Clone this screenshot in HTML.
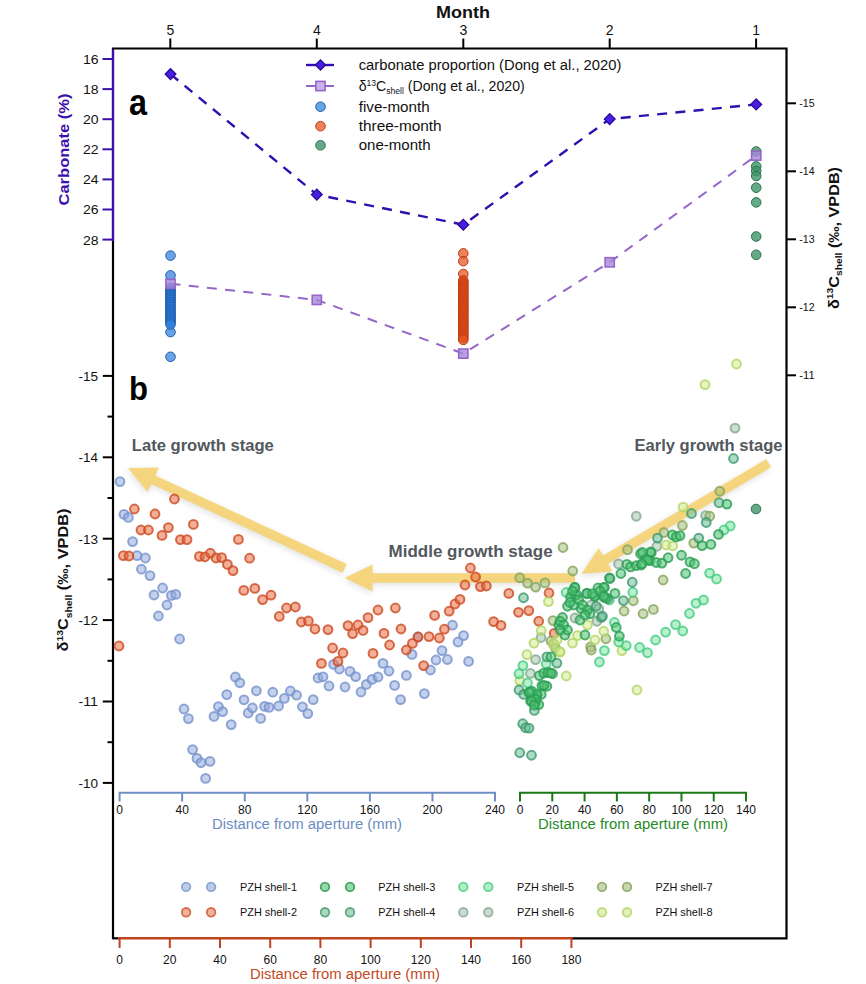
<!DOCTYPE html>
<html><head><meta charset="utf-8"><title>figure</title>
<style>html,body{margin:0;padding:0;background:#fff}body{width:866px;height:984px;overflow:hidden;font-family:"Liberation Sans", sans-serif}svg{display:block}</style>
</head><body>
<svg width="866" height="984" viewBox="0 0 866 984" font-family='"Liberation Sans", sans-serif'>
<rect width="866" height="984" fill="#fff"/>
<path d="M113 939.3 V48.5 H786.5 V938.3 H571" fill="none" stroke="#000" stroke-width="2.2"/>
<path d="M113 938.3 H120" fill="none" stroke="#000" stroke-width="2.2"/>
<path d="M170.3 48.5 V38.5" stroke="#000" stroke-width="2"/>
<text x="170.3" y="35" font-size="14" text-anchor="middle" font-weight="normal" fill="#111" >5</text>
<path d="M316.8 48.5 V38.5" stroke="#000" stroke-width="2"/>
<text x="316.8" y="35" font-size="14" text-anchor="middle" font-weight="normal" fill="#111" >4</text>
<path d="M463.3 48.5 V38.5" stroke="#000" stroke-width="2"/>
<text x="463.3" y="35" font-size="14" text-anchor="middle" font-weight="normal" fill="#111" >3</text>
<path d="M609.7 48.5 V38.5" stroke="#000" stroke-width="2"/>
<text x="609.7" y="35" font-size="14" text-anchor="middle" font-weight="normal" fill="#111" >2</text>
<path d="M756.1 48.5 V38.5" stroke="#000" stroke-width="2"/>
<text x="756.1" y="35" font-size="14" text-anchor="middle" font-weight="normal" fill="#111" >1</text>
<text x="463" y="18" font-size="16" text-anchor="middle" font-weight="bold" fill="#111" textLength="54" lengthAdjust="spacingAndGlyphs" >Month</text>
<path d="M113 49.6 V241" stroke="#3d10ad" stroke-width="2.2"/>
<path d="M102.5 59.0 H113" stroke="#3d10ad" stroke-width="2"/>
<text x="98.6" y="63.9" font-size="12.5" text-anchor="end" font-weight="normal" fill="#111" textLength="15.6" lengthAdjust="spacingAndGlyphs" >16</text>
<path d="M102.5 89.1 H113" stroke="#3d10ad" stroke-width="2"/>
<text x="98.6" y="94.0" font-size="12.5" text-anchor="end" font-weight="normal" fill="#111" textLength="15.6" lengthAdjust="spacingAndGlyphs" >18</text>
<path d="M102.5 119.2 H113" stroke="#3d10ad" stroke-width="2"/>
<text x="98.6" y="124.10000000000001" font-size="12.5" text-anchor="end" font-weight="normal" fill="#111" textLength="15.6" lengthAdjust="spacingAndGlyphs" >20</text>
<path d="M102.5 149.3 H113" stroke="#3d10ad" stroke-width="2"/>
<text x="98.6" y="154.20000000000002" font-size="12.5" text-anchor="end" font-weight="normal" fill="#111" textLength="15.6" lengthAdjust="spacingAndGlyphs" >22</text>
<path d="M102.5 179.4 H113" stroke="#3d10ad" stroke-width="2"/>
<text x="98.6" y="184.3" font-size="12.5" text-anchor="end" font-weight="normal" fill="#111" textLength="15.6" lengthAdjust="spacingAndGlyphs" >24</text>
<path d="M102.5 209.5 H113" stroke="#3d10ad" stroke-width="2"/>
<text x="98.6" y="214.4" font-size="12.5" text-anchor="end" font-weight="normal" fill="#111" textLength="15.6" lengthAdjust="spacingAndGlyphs" >26</text>
<path d="M102.5 239.60000000000002 H113" stroke="#3d10ad" stroke-width="2"/>
<text x="98.6" y="244.50000000000003" font-size="12.5" text-anchor="end" font-weight="normal" fill="#111" textLength="15.6" lengthAdjust="spacingAndGlyphs" >28</text>
<text transform="translate(68.5,149.5) rotate(-90)" font-size="15.5" font-weight="bold" text-anchor="middle" fill="#3d10ad" textLength="112" lengthAdjust="spacingAndGlyphs">Carbonate (%)</text>
<path d="M102.8 375.9 H113" stroke="#000" stroke-width="2"/>
<text x="98" y="380.7" font-size="12" text-anchor="end" font-weight="normal" fill="#111" textLength="19.5" lengthAdjust="spacingAndGlyphs" >-15</text>
<path d="M107.5 416.59999999999997 H113" stroke="#000" stroke-width="2"/>
<path d="M102.8 457.29999999999995 H113" stroke="#000" stroke-width="2"/>
<text x="98" y="462.09999999999997" font-size="12" text-anchor="end" font-weight="normal" fill="#111" textLength="19.5" lengthAdjust="spacingAndGlyphs" >-14</text>
<path d="M107.5 497.99999999999994 H113" stroke="#000" stroke-width="2"/>
<path d="M102.8 538.7 H113" stroke="#000" stroke-width="2"/>
<text x="98" y="543.5" font-size="12" text-anchor="end" font-weight="normal" fill="#111" textLength="19.5" lengthAdjust="spacingAndGlyphs" >-13</text>
<path d="M107.5 579.4000000000001 H113" stroke="#000" stroke-width="2"/>
<path d="M102.8 620.1 H113" stroke="#000" stroke-width="2"/>
<text x="98" y="624.9" font-size="12" text-anchor="end" font-weight="normal" fill="#111" textLength="19.5" lengthAdjust="spacingAndGlyphs" >-12</text>
<path d="M107.5 660.8000000000001 H113" stroke="#000" stroke-width="2"/>
<path d="M102.8 701.5 H113" stroke="#000" stroke-width="2"/>
<text x="98" y="706.3" font-size="12" text-anchor="end" font-weight="normal" fill="#111" textLength="19.5" lengthAdjust="spacingAndGlyphs" >-11</text>
<path d="M107.5 742.2 H113" stroke="#000" stroke-width="2"/>
<path d="M102.8 782.9 H113" stroke="#000" stroke-width="2"/>
<text x="98" y="787.6999999999999" font-size="12" text-anchor="end" font-weight="normal" fill="#111" textLength="19.5" lengthAdjust="spacingAndGlyphs" >-10</text>
<path d="M786.5 103.3 H796" stroke="#000" stroke-width="2"/>
<text x="799.3" y="106.89999999999999" font-size="10" text-anchor="start" font-weight="normal" fill="#111" textLength="15.3" lengthAdjust="spacingAndGlyphs" >-15</text>
<path d="M786.5 171.3 H796" stroke="#000" stroke-width="2"/>
<text x="799.3" y="174.9" font-size="10" text-anchor="start" font-weight="normal" fill="#111" textLength="15.3" lengthAdjust="spacingAndGlyphs" >-14</text>
<path d="M786.5 239.3 H796" stroke="#000" stroke-width="2"/>
<text x="799.3" y="242.9" font-size="10" text-anchor="start" font-weight="normal" fill="#111" textLength="15.3" lengthAdjust="spacingAndGlyphs" >-13</text>
<path d="M786.5 307.3 H796" stroke="#000" stroke-width="2"/>
<text x="799.3" y="310.90000000000003" font-size="10" text-anchor="start" font-weight="normal" fill="#111" textLength="15.3" lengthAdjust="spacingAndGlyphs" >-12</text>
<path d="M786.5 375.3 H796" stroke="#000" stroke-width="2"/>
<text x="799.3" y="378.90000000000003" font-size="10" text-anchor="start" font-weight="normal" fill="#111" textLength="15.3" lengthAdjust="spacingAndGlyphs" >-11</text>
<g transform="translate(838.5,238) rotate(-90)" font-weight="bold" fill="#111"><text x="0" y="0" font-size="15" text-anchor="middle" textLength="142" lengthAdjust="spacingAndGlyphs">δ<tspan font-size="9.5" dy="-5.5">13</tspan><tspan dy="5.5">C</tspan><tspan font-size="9.5" dy="3.5">shell</tspan><tspan dy="-3.5"> (‰, VPDB)</tspan></text></g>
<g transform="translate(68,580) rotate(-90)" font-weight="bold" fill="#111"><text x="0" y="0" font-size="15" text-anchor="middle" textLength="143" lengthAdjust="spacingAndGlyphs">δ<tspan font-size="9.5" dy="-5.5">13</tspan><tspan dy="5.5">C</tspan><tspan font-size="9.5" dy="3.5">shell</tspan><tspan dy="-3.5"> (‰, VPDB)</tspan></text></g>
<path d="M119.6 801.5 V792.8 H495 V801.5" fill="none" stroke="#6f8fc4" stroke-width="2"/>
<text x="119.6" y="814.3" font-size="12" text-anchor="middle" font-weight="normal" fill="#111" >0</text>
<path d="M182.17 792.8 V801.5" stroke="#6f8fc4" stroke-width="2"/>
<text x="182.17" y="814.3" font-size="12" text-anchor="middle" font-weight="normal" fill="#111" >40</text>
<path d="M244.74 792.8 V801.5" stroke="#6f8fc4" stroke-width="2"/>
<text x="244.74" y="814.3" font-size="12" text-anchor="middle" font-weight="normal" fill="#111" >80</text>
<path d="M307.31 792.8 V801.5" stroke="#6f8fc4" stroke-width="2"/>
<text x="307.31" y="814.3" font-size="12" text-anchor="middle" font-weight="normal" fill="#111" >120</text>
<path d="M369.88 792.8 V801.5" stroke="#6f8fc4" stroke-width="2"/>
<text x="369.88" y="814.3" font-size="12" text-anchor="middle" font-weight="normal" fill="#111" >160</text>
<path d="M432.45000000000005 792.8 V801.5" stroke="#6f8fc4" stroke-width="2"/>
<text x="432.45000000000005" y="814.3" font-size="12" text-anchor="middle" font-weight="normal" fill="#111" >200</text>
<text x="495.02" y="814.3" font-size="12" text-anchor="middle" font-weight="normal" fill="#111" >240</text>
<text x="307" y="829" font-size="14" text-anchor="middle" font-weight="normal" fill="#6d8dc2" textLength="190" lengthAdjust="spacingAndGlyphs" >Distance from aperture (mm)</text>
<path d="M520 801.5 V792.8 H746 V801.5" fill="none" stroke="#1a7a1a" stroke-width="2"/>
<text x="520.0" y="814.3" font-size="12" text-anchor="middle" font-weight="normal" fill="#111" >0</text>
<path d="M552.29 792.8 V801.5" stroke="#1a7a1a" stroke-width="2"/>
<text x="552.29" y="814.3" font-size="12" text-anchor="middle" font-weight="normal" fill="#111" >20</text>
<path d="M584.58 792.8 V801.5" stroke="#1a7a1a" stroke-width="2"/>
<text x="584.58" y="814.3" font-size="12" text-anchor="middle" font-weight="normal" fill="#111" >40</text>
<path d="M616.87 792.8 V801.5" stroke="#1a7a1a" stroke-width="2"/>
<text x="616.87" y="814.3" font-size="12" text-anchor="middle" font-weight="normal" fill="#111" >60</text>
<path d="M649.16 792.8 V801.5" stroke="#1a7a1a" stroke-width="2"/>
<text x="649.16" y="814.3" font-size="12" text-anchor="middle" font-weight="normal" fill="#111" >80</text>
<path d="M681.45 792.8 V801.5" stroke="#1a7a1a" stroke-width="2"/>
<text x="681.45" y="814.3" font-size="12" text-anchor="middle" font-weight="normal" fill="#111" >100</text>
<path d="M713.74 792.8 V801.5" stroke="#1a7a1a" stroke-width="2"/>
<text x="713.74" y="814.3" font-size="12" text-anchor="middle" font-weight="normal" fill="#111" >120</text>
<text x="746.03" y="814.3" font-size="12" text-anchor="middle" font-weight="normal" fill="#111" >140</text>
<text x="633" y="829" font-size="14" text-anchor="middle" font-weight="normal" fill="#1f8a2a" textLength="190" lengthAdjust="spacingAndGlyphs" >Distance from aperture (mm)</text>
<path d="M118 938.3 H572.4" stroke="#c0441c" stroke-width="2.4"/>
<path d="M119.6 938.3 V948" stroke="#c0441c" stroke-width="2"/>
<text x="119.6" y="964.3" font-size="12" text-anchor="middle" font-weight="normal" fill="#111" >0</text>
<path d="M169.8 938.3 V948" stroke="#c0441c" stroke-width="2"/>
<text x="169.8" y="964.3" font-size="12" text-anchor="middle" font-weight="normal" fill="#111" >20</text>
<path d="M220.0 938.3 V948" stroke="#c0441c" stroke-width="2"/>
<text x="220.0" y="964.3" font-size="12" text-anchor="middle" font-weight="normal" fill="#111" >40</text>
<path d="M270.20000000000005 938.3 V948" stroke="#c0441c" stroke-width="2"/>
<text x="270.20000000000005" y="964.3" font-size="12" text-anchor="middle" font-weight="normal" fill="#111" >60</text>
<path d="M320.4 938.3 V948" stroke="#c0441c" stroke-width="2"/>
<text x="320.4" y="964.3" font-size="12" text-anchor="middle" font-weight="normal" fill="#111" >80</text>
<path d="M370.6 938.3 V948" stroke="#c0441c" stroke-width="2"/>
<text x="370.6" y="964.3" font-size="12" text-anchor="middle" font-weight="normal" fill="#111" >100</text>
<path d="M420.80000000000007 938.3 V948" stroke="#c0441c" stroke-width="2"/>
<text x="420.80000000000007" y="964.3" font-size="12" text-anchor="middle" font-weight="normal" fill="#111" >120</text>
<path d="M471.0 938.3 V948" stroke="#c0441c" stroke-width="2"/>
<text x="471.0" y="964.3" font-size="12" text-anchor="middle" font-weight="normal" fill="#111" >140</text>
<path d="M521.2 938.3 V948" stroke="#c0441c" stroke-width="2"/>
<text x="521.2" y="964.3" font-size="12" text-anchor="middle" font-weight="normal" fill="#111" >160</text>
<path d="M571.4 938.3 V948" stroke="#c0441c" stroke-width="2"/>
<text x="571.4" y="964.3" font-size="12" text-anchor="middle" font-weight="normal" fill="#111" >180</text>
<text x="345" y="979" font-size="14" text-anchor="middle" font-weight="normal" fill="#c24a1e" textLength="190" lengthAdjust="spacingAndGlyphs" >Distance from aperture (mm)</text>
<text x="129" y="115" font-size="36" text-anchor="start" font-weight="bold" fill="#000" textLength="18" lengthAdjust="spacingAndGlyphs" >a</text>
<text x="129" y="400" font-size="34" text-anchor="start" font-weight="bold" fill="#000" textLength="19" lengthAdjust="spacingAndGlyphs" >b</text>
<defs><filter id="gl" x="-20%" y="-20%" width="140%" height="140%"><feGaussianBlur stdDeviation="3"/></filter></defs>
<path d="M346.6 564.1 L155.3 475.4 L159.0 467.4 L127.9 467.9 L147.6 491.9 L151.3 483.9 L342.6 572.7Z" fill="#777" opacity="0.22" filter="url(#gl)" transform="translate(-1,2)"/>
<path d="M346.6 564.1 L155.3 475.4 L159.0 467.4 L127.9 467.9 L147.6 491.9 L151.3 483.9 L342.6 572.7Z" fill="#f5d474" opacity="0.92"/>
<path d="M575.0 573.3 L372.6 573.3 L372.6 564.5 L344.6 578.0 L372.6 591.5 L372.6 582.7 L575.0 582.7Z" fill="#777" opacity="0.22" filter="url(#gl)" transform="translate(-1,2)"/>
<path d="M575.0 573.3 L372.6 573.3 L372.6 564.5 L344.6 578.0 L372.6 591.5 L372.6 582.7 L575.0 582.7Z" fill="#f5d474" opacity="0.92"/>
<path d="M766.3 459.2 L603.2 555.6 L598.7 548.0 L581.5 573.9 L612.5 571.3 L608.0 563.7 L771.1 467.2Z" fill="#777" opacity="0.22" filter="url(#gl)" transform="translate(-1,2)"/>
<path d="M766.3 459.2 L603.2 555.6 L598.7 548.0 L581.5 573.9 L612.5 571.3 L608.0 563.7 L771.1 467.2Z" fill="#f5d474" opacity="0.92"/>
<text x="131.8" y="450.6" font-size="17" font-weight="bold" fill="#52585d" text-anchor="start" textLength="142" lengthAdjust="spacingAndGlyphs">Late growth stage</text>
<text x="388.6" y="556.6" font-size="17" font-weight="bold" fill="#52585d" text-anchor="start" textLength="164" lengthAdjust="spacingAndGlyphs">Middle growth stage</text>
<text x="634.5" y="450.6" font-size="17" font-weight="bold" fill="#52585d" text-anchor="start" textLength="148" lengthAdjust="spacingAndGlyphs">Early growth stage</text>
<polyline points="170.5,283.7 316.8,299.9 463.3,353.6 609.7,262.3 756.2,155.6" fill="none" stroke="#9467c8" stroke-width="2" stroke-dasharray="10 8.3"/>
<circle cx="170.5" cy="255.6" r="4.8" fill="#2f7fdc" fill-opacity="0.72" stroke="#1d5fae" stroke-width="1"/>
<circle cx="170.5" cy="275.4" r="4.8" fill="#2f7fdc" fill-opacity="0.72" stroke="#1d5fae" stroke-width="1"/>
<circle cx="170.5" cy="332.1" r="4.8" fill="#2f7fdc" fill-opacity="0.72" stroke="#1d5fae" stroke-width="1"/>
<circle cx="170.5" cy="356.8" r="4.8" fill="#2f7fdc" fill-opacity="0.72" stroke="#1d5fae" stroke-width="1"/>
<circle cx="170.5" cy="288.0" r="4.8" fill="#2f7fdc" fill-opacity="0.72" stroke="#1d5fae" stroke-width="1"/>
<circle cx="170.5" cy="289.73809523809524" r="4.8" fill="#2f7fdc" fill-opacity="0.72" stroke="#1d5fae" stroke-width="1"/>
<circle cx="170.5" cy="291.4761904761905" r="4.8" fill="#2f7fdc" fill-opacity="0.72" stroke="#1d5fae" stroke-width="1"/>
<circle cx="170.5" cy="293.2142857142857" r="4.8" fill="#2f7fdc" fill-opacity="0.72" stroke="#1d5fae" stroke-width="1"/>
<circle cx="170.5" cy="294.95238095238096" r="4.8" fill="#2f7fdc" fill-opacity="0.72" stroke="#1d5fae" stroke-width="1"/>
<circle cx="170.5" cy="296.6904761904762" r="4.8" fill="#2f7fdc" fill-opacity="0.72" stroke="#1d5fae" stroke-width="1"/>
<circle cx="170.5" cy="298.42857142857144" r="4.8" fill="#2f7fdc" fill-opacity="0.72" stroke="#1d5fae" stroke-width="1"/>
<circle cx="170.5" cy="300.1666666666667" r="4.8" fill="#2f7fdc" fill-opacity="0.72" stroke="#1d5fae" stroke-width="1"/>
<circle cx="170.5" cy="301.9047619047619" r="4.8" fill="#2f7fdc" fill-opacity="0.72" stroke="#1d5fae" stroke-width="1"/>
<circle cx="170.5" cy="303.64285714285717" r="4.8" fill="#2f7fdc" fill-opacity="0.72" stroke="#1d5fae" stroke-width="1"/>
<circle cx="170.5" cy="305.3809523809524" r="4.8" fill="#2f7fdc" fill-opacity="0.72" stroke="#1d5fae" stroke-width="1"/>
<circle cx="170.5" cy="307.1190476190476" r="4.8" fill="#2f7fdc" fill-opacity="0.72" stroke="#1d5fae" stroke-width="1"/>
<circle cx="170.5" cy="308.85714285714283" r="4.8" fill="#2f7fdc" fill-opacity="0.72" stroke="#1d5fae" stroke-width="1"/>
<circle cx="170.5" cy="310.5952380952381" r="4.8" fill="#2f7fdc" fill-opacity="0.72" stroke="#1d5fae" stroke-width="1"/>
<circle cx="170.5" cy="312.3333333333333" r="4.8" fill="#2f7fdc" fill-opacity="0.72" stroke="#1d5fae" stroke-width="1"/>
<circle cx="170.5" cy="314.07142857142856" r="4.8" fill="#2f7fdc" fill-opacity="0.72" stroke="#1d5fae" stroke-width="1"/>
<circle cx="170.5" cy="315.8095238095238" r="4.8" fill="#2f7fdc" fill-opacity="0.72" stroke="#1d5fae" stroke-width="1"/>
<circle cx="170.5" cy="317.54761904761904" r="4.8" fill="#2f7fdc" fill-opacity="0.72" stroke="#1d5fae" stroke-width="1"/>
<circle cx="170.5" cy="319.2857142857143" r="4.8" fill="#2f7fdc" fill-opacity="0.72" stroke="#1d5fae" stroke-width="1"/>
<circle cx="170.5" cy="321.0238095238095" r="4.8" fill="#2f7fdc" fill-opacity="0.72" stroke="#1d5fae" stroke-width="1"/>
<circle cx="170.5" cy="322.76190476190476" r="4.8" fill="#2f7fdc" fill-opacity="0.72" stroke="#1d5fae" stroke-width="1"/>
<circle cx="170.5" cy="324.5" r="4.8" fill="#2f7fdc" fill-opacity="0.72" stroke="#1d5fae" stroke-width="1"/>
<circle cx="463.3" cy="253.4" r="4.8" fill="#e2531f" fill-opacity="0.72" stroke="#c23c10" stroke-width="1"/>
<circle cx="463.3" cy="261.2" r="4.8" fill="#e2531f" fill-opacity="0.72" stroke="#c23c10" stroke-width="1"/>
<circle cx="463.3" cy="274" r="4.8" fill="#e2531f" fill-opacity="0.72" stroke="#c23c10" stroke-width="1"/>
<circle cx="463.3" cy="280.4" r="4.8" fill="#e2531f" fill-opacity="0.72" stroke="#c23c10" stroke-width="1"/>
<circle cx="463.3" cy="282.15" r="4.8" fill="#e2531f" fill-opacity="0.72" stroke="#c23c10" stroke-width="1"/>
<circle cx="463.3" cy="283.9" r="4.8" fill="#e2531f" fill-opacity="0.72" stroke="#c23c10" stroke-width="1"/>
<circle cx="463.3" cy="285.65" r="4.8" fill="#e2531f" fill-opacity="0.72" stroke="#c23c10" stroke-width="1"/>
<circle cx="463.3" cy="287.4" r="4.8" fill="#e2531f" fill-opacity="0.72" stroke="#c23c10" stroke-width="1"/>
<circle cx="463.3" cy="289.15" r="4.8" fill="#e2531f" fill-opacity="0.72" stroke="#c23c10" stroke-width="1"/>
<circle cx="463.3" cy="290.9" r="4.8" fill="#e2531f" fill-opacity="0.72" stroke="#c23c10" stroke-width="1"/>
<circle cx="463.3" cy="292.65" r="4.8" fill="#e2531f" fill-opacity="0.72" stroke="#c23c10" stroke-width="1"/>
<circle cx="463.3" cy="294.4" r="4.8" fill="#e2531f" fill-opacity="0.72" stroke="#c23c10" stroke-width="1"/>
<circle cx="463.3" cy="296.15" r="4.8" fill="#e2531f" fill-opacity="0.72" stroke="#c23c10" stroke-width="1"/>
<circle cx="463.3" cy="297.9" r="4.8" fill="#e2531f" fill-opacity="0.72" stroke="#c23c10" stroke-width="1"/>
<circle cx="463.3" cy="299.65" r="4.8" fill="#e2531f" fill-opacity="0.72" stroke="#c23c10" stroke-width="1"/>
<circle cx="463.3" cy="301.4" r="4.8" fill="#e2531f" fill-opacity="0.72" stroke="#c23c10" stroke-width="1"/>
<circle cx="463.3" cy="303.15" r="4.8" fill="#e2531f" fill-opacity="0.72" stroke="#c23c10" stroke-width="1"/>
<circle cx="463.3" cy="304.9" r="4.8" fill="#e2531f" fill-opacity="0.72" stroke="#c23c10" stroke-width="1"/>
<circle cx="463.3" cy="306.65" r="4.8" fill="#e2531f" fill-opacity="0.72" stroke="#c23c10" stroke-width="1"/>
<circle cx="463.3" cy="308.4" r="4.8" fill="#e2531f" fill-opacity="0.72" stroke="#c23c10" stroke-width="1"/>
<circle cx="463.3" cy="310.15" r="4.8" fill="#e2531f" fill-opacity="0.72" stroke="#c23c10" stroke-width="1"/>
<circle cx="463.3" cy="311.9" r="4.8" fill="#e2531f" fill-opacity="0.72" stroke="#c23c10" stroke-width="1"/>
<circle cx="463.3" cy="313.65" r="4.8" fill="#e2531f" fill-opacity="0.72" stroke="#c23c10" stroke-width="1"/>
<circle cx="463.3" cy="315.4" r="4.8" fill="#e2531f" fill-opacity="0.72" stroke="#c23c10" stroke-width="1"/>
<circle cx="463.3" cy="317.15" r="4.8" fill="#e2531f" fill-opacity="0.72" stroke="#c23c10" stroke-width="1"/>
<circle cx="463.3" cy="318.9" r="4.8" fill="#e2531f" fill-opacity="0.72" stroke="#c23c10" stroke-width="1"/>
<circle cx="463.3" cy="320.65" r="4.8" fill="#e2531f" fill-opacity="0.72" stroke="#c23c10" stroke-width="1"/>
<circle cx="463.3" cy="322.4" r="4.8" fill="#e2531f" fill-opacity="0.72" stroke="#c23c10" stroke-width="1"/>
<circle cx="463.3" cy="324.15" r="4.8" fill="#e2531f" fill-opacity="0.72" stroke="#c23c10" stroke-width="1"/>
<circle cx="463.3" cy="325.9" r="4.8" fill="#e2531f" fill-opacity="0.72" stroke="#c23c10" stroke-width="1"/>
<circle cx="463.3" cy="327.65" r="4.8" fill="#e2531f" fill-opacity="0.72" stroke="#c23c10" stroke-width="1"/>
<circle cx="463.3" cy="329.4" r="4.8" fill="#e2531f" fill-opacity="0.72" stroke="#c23c10" stroke-width="1"/>
<circle cx="463.3" cy="331.15" r="4.8" fill="#e2531f" fill-opacity="0.72" stroke="#c23c10" stroke-width="1"/>
<circle cx="463.3" cy="332.9" r="4.8" fill="#e2531f" fill-opacity="0.72" stroke="#c23c10" stroke-width="1"/>
<circle cx="463.3" cy="334.65" r="4.8" fill="#e2531f" fill-opacity="0.72" stroke="#c23c10" stroke-width="1"/>
<circle cx="463.3" cy="336.4" r="4.8" fill="#e2531f" fill-opacity="0.72" stroke="#c23c10" stroke-width="1"/>
<circle cx="463.3" cy="338.15" r="4.8" fill="#e2531f" fill-opacity="0.72" stroke="#c23c10" stroke-width="1"/>
<circle cx="463.3" cy="339.9" r="4.8" fill="#e2531f" fill-opacity="0.72" stroke="#c23c10" stroke-width="1"/>
<circle cx="756.2" cy="151.5" r="4.8" fill="#3f9568" fill-opacity="0.8" stroke="#2a7350" stroke-width="1"/>
<circle cx="756.2" cy="166.4" r="4.8" fill="#3f9568" fill-opacity="0.8" stroke="#2a7350" stroke-width="1"/>
<circle cx="756.2" cy="171" r="4.8" fill="#3f9568" fill-opacity="0.8" stroke="#2a7350" stroke-width="1"/>
<circle cx="756.2" cy="176" r="4.8" fill="#3f9568" fill-opacity="0.8" stroke="#2a7350" stroke-width="1"/>
<circle cx="756.2" cy="187.7" r="4.8" fill="#3f9568" fill-opacity="0.8" stroke="#2a7350" stroke-width="1"/>
<circle cx="756.2" cy="202.4" r="4.8" fill="#3f9568" fill-opacity="0.8" stroke="#2a7350" stroke-width="1"/>
<circle cx="756.2" cy="236.5" r="4.8" fill="#3f9568" fill-opacity="0.8" stroke="#2a7350" stroke-width="1"/>
<circle cx="756.2" cy="254.8" r="4.8" fill="#3f9568" fill-opacity="0.8" stroke="#2a7350" stroke-width="1"/>
<circle cx="756" cy="509" r="4.8" fill="#3f9568" fill-opacity="0.8" stroke="#2a7350" stroke-width="1"/>
<rect x="165.9" y="279.09999999999997" width="9.2" height="9.2" fill="#a988da" fill-opacity="0.8" stroke="#9467c8" stroke-width="1.6"/>
<rect x="312.2" y="295.29999999999995" width="9.2" height="9.2" fill="#a988da" fill-opacity="0.8" stroke="#9467c8" stroke-width="1.6"/>
<rect x="458.7" y="349.0" width="9.2" height="9.2" fill="#a988da" fill-opacity="0.8" stroke="#9467c8" stroke-width="1.6"/>
<rect x="605.1" y="257.7" width="9.2" height="9.2" fill="#a988da" fill-opacity="0.8" stroke="#9467c8" stroke-width="1.6"/>
<rect x="751.6" y="151.0" width="9.2" height="9.2" fill="#a988da" fill-opacity="0.8" stroke="#9467c8" stroke-width="1.6"/>
<polyline points="170.5,74.1 316.8,194.6 463.3,224.7 609.7,119.1 756.2,104.4" fill="none" stroke="#3210b0" stroke-width="2.4" stroke-dasharray="10 8.3"/>
<path d="M165.1 74.1 L170.5 68.69999999999999 L175.9 74.1 L170.5 79.5Z" fill="#4a1ee0" stroke="#2a0a9c" stroke-width="1.3"/>
<path d="M311.40000000000003 194.6 L316.8 189.2 L322.2 194.6 L316.8 200.0Z" fill="#4a1ee0" stroke="#2a0a9c" stroke-width="1.3"/>
<path d="M457.90000000000003 224.7 L463.3 219.29999999999998 L468.7 224.7 L463.3 230.1Z" fill="#4a1ee0" stroke="#2a0a9c" stroke-width="1.3"/>
<path d="M604.3000000000001 119.1 L609.7 113.69999999999999 L615.1 119.1 L609.7 124.5Z" fill="#4a1ee0" stroke="#2a0a9c" stroke-width="1.3"/>
<path d="M750.8000000000001 104.4 L756.2 99.0 L761.6 104.4 L756.2 109.80000000000001Z" fill="#4a1ee0" stroke="#2a0a9c" stroke-width="1.3"/>
<path d="M306 65 H334" stroke="#3210b0" stroke-width="2.4"/>
<path d="M315.5 65 L320.5 60 L325.5 65 L320.5 70Z" fill="#4a1ee0" stroke="#2a0a9c" stroke-width="1.3"/>
<path d="M306 86 H334" stroke="#9467c8" stroke-width="2"/>
<rect x="315.9" y="81.4" width="9.2" height="9.2" fill="#c9b3ea" stroke="#9467c8" stroke-width="1.6"/>
<circle cx="320.5" cy="106.7" r="4.8" fill="#2f7fdc" fill-opacity="0.72" stroke="#1d5fae" stroke-width="1"/>
<circle cx="320.5" cy="126.2" r="4.8" fill="#e2531f" fill-opacity="0.72" stroke="#c23c10" stroke-width="1"/>
<circle cx="320.5" cy="145.3" r="4.8" fill="#3f9568" fill-opacity="0.8" stroke="#2a7350" stroke-width="1"/>
<text x="358.7" y="70" font-size="14" fill="#111" textLength="262.7" lengthAdjust="spacingAndGlyphs">carbonate proportion (Dong et al., 2020)</text>
<text x="358.7" y="91" font-size="14" fill="#111" textLength="166" lengthAdjust="spacingAndGlyphs">δ<tspan font-size="8.5" dy="-5">13</tspan><tspan dy="5">C</tspan><tspan font-size="8.5" dy="3">shell</tspan><tspan dy="-3"> (Dong et al., 2020)</tspan></text>
<text x="358.7" y="111.5" font-size="14" fill="#111" textLength="71" lengthAdjust="spacingAndGlyphs">five-month</text>
<text x="358.7" y="131" font-size="14" fill="#111" textLength="83" lengthAdjust="spacingAndGlyphs">three-month</text>
<text x="358.7" y="150.2" font-size="14" fill="#111" textLength="72" lengthAdjust="spacingAndGlyphs">one-month</text>
<circle cx="186.1" cy="886.9" r="4.3" fill="#8fa8d8" fill-opacity="0.6" stroke="#7f9bd0" stroke-width="1.8" stroke-opacity="0.85"/>
<circle cx="211.1" cy="886.9" r="4.3" fill="#8fa8d8" fill-opacity="0.6" stroke="#7f9bd0" stroke-width="1.8" stroke-opacity="0.85"/>
<text x="240" y="890.9" font-size="11" fill="#111" textLength="57" lengthAdjust="spacingAndGlyphs">PZH shell-1</text>
<circle cx="186.1" cy="912.3" r="4.3" fill="#e8805c" fill-opacity="0.6" stroke="#cf5a36" stroke-width="1.8" stroke-opacity="0.85"/>
<circle cx="211.1" cy="912.3" r="4.3" fill="#e8805c" fill-opacity="0.6" stroke="#cf5a36" stroke-width="1.8" stroke-opacity="0.85"/>
<text x="240" y="916.3" font-size="11" fill="#111" textLength="57" lengthAdjust="spacingAndGlyphs">PZH shell-2</text>
<circle cx="325" cy="886.9" r="4.3" fill="#4fbf70" fill-opacity="0.6" stroke="#2f9a50" stroke-width="1.8" stroke-opacity="0.85"/>
<circle cx="350" cy="886.9" r="4.3" fill="#4fbf70" fill-opacity="0.6" stroke="#2f9a50" stroke-width="1.8" stroke-opacity="0.85"/>
<text x="378.3" y="890.9" font-size="11" fill="#111" textLength="57" lengthAdjust="spacingAndGlyphs">PZH shell-3</text>
<circle cx="325" cy="912.3" r="4.3" fill="#72bf95" fill-opacity="0.6" stroke="#4d9d74" stroke-width="1.8" stroke-opacity="0.85"/>
<circle cx="350" cy="912.3" r="4.3" fill="#72bf95" fill-opacity="0.6" stroke="#4d9d74" stroke-width="1.8" stroke-opacity="0.85"/>
<text x="378.3" y="916.3" font-size="11" fill="#111" textLength="57" lengthAdjust="spacingAndGlyphs">PZH shell-4</text>
<circle cx="463.3" cy="886.9" r="4.3" fill="#7be3a3" fill-opacity="0.6" stroke="#4fcf85" stroke-width="1.8" stroke-opacity="0.85"/>
<circle cx="488.3" cy="886.9" r="4.3" fill="#7be3a3" fill-opacity="0.6" stroke="#4fcf85" stroke-width="1.8" stroke-opacity="0.85"/>
<text x="517" y="890.9" font-size="11" fill="#111" textLength="57" lengthAdjust="spacingAndGlyphs">PZH shell-5</text>
<circle cx="463.3" cy="912.3" r="4.3" fill="#a9c5b0" fill-opacity="0.6" stroke="#8aa995" stroke-width="1.8" stroke-opacity="0.85"/>
<circle cx="488.3" cy="912.3" r="4.3" fill="#a9c5b0" fill-opacity="0.6" stroke="#8aa995" stroke-width="1.8" stroke-opacity="0.85"/>
<text x="517" y="916.3" font-size="11" fill="#111" textLength="57" lengthAdjust="spacingAndGlyphs">PZH shell-6</text>
<circle cx="602" cy="886.9" r="4.3" fill="#a3bd7c" fill-opacity="0.6" stroke="#86a45e" stroke-width="1.8" stroke-opacity="0.85"/>
<circle cx="627" cy="886.9" r="4.3" fill="#a3bd7c" fill-opacity="0.6" stroke="#86a45e" stroke-width="1.8" stroke-opacity="0.85"/>
<text x="655.5" y="890.9" font-size="11" fill="#111" textLength="57" lengthAdjust="spacingAndGlyphs">PZH shell-7</text>
<circle cx="602" cy="912.3" r="4.3" fill="#cfe88a" fill-opacity="0.6" stroke="#b5d56a" stroke-width="1.8" stroke-opacity="0.85"/>
<circle cx="627" cy="912.3" r="4.3" fill="#cfe88a" fill-opacity="0.6" stroke="#b5d56a" stroke-width="1.8" stroke-opacity="0.85"/>
<text x="655.5" y="916.3" font-size="11" fill="#111" textLength="57" lengthAdjust="spacingAndGlyphs">PZH shell-8</text>
<g fill="#93abdc" fill-opacity="0.55" stroke="#7591cc" stroke-opacity="0.8" stroke-width="2">
<circle cx="120" cy="481.6" r="4.4"/><circle cx="124" cy="514.4" r="4.4"/><circle cx="128.4" cy="517.4" r="4.4"/><circle cx="132.6" cy="541.6" r="4.4"/><circle cx="137" cy="555.6" r="4.4"/><circle cx="141.4" cy="569.2" r="4.4"/><circle cx="145.4" cy="558" r="4.4"/><circle cx="150" cy="575.6" r="4.4"/><circle cx="154" cy="595" r="4.4"/><circle cx="158.4" cy="616" r="4.4"/><circle cx="162.6" cy="588" r="4.4"/><circle cx="167" cy="605" r="4.4"/><circle cx="171.4" cy="595.4" r="4.4"/><circle cx="175.8" cy="594.4" r="4.4"/><circle cx="179.6" cy="639" r="4.4"/><circle cx="184" cy="709" r="4.4"/><circle cx="188.4" cy="718.6" r="4.4"/><circle cx="192.6" cy="749.6" r="4.4"/><circle cx="197" cy="758.4" r="4.4"/><circle cx="201" cy="762.6" r="4.4"/><circle cx="205.6" cy="778.4" r="4.4"/><circle cx="210" cy="761.4" r="4.4"/><circle cx="214" cy="716.4" r="4.4"/><circle cx="218.4" cy="706.6" r="4.4"/><circle cx="222.6" cy="711.6" r="4.4"/><circle cx="226.8" cy="694.6" r="4.4"/><circle cx="231.2" cy="724.6" r="4.4"/><circle cx="235.4" cy="677" r="4.4"/><circle cx="239.8" cy="682.8" r="4.4"/><circle cx="244" cy="699.8" r="4.4"/><circle cx="248.2" cy="713" r="4.4"/><circle cx="252.4" cy="708" r="4.4"/><circle cx="256.4" cy="690.8" r="4.4"/><circle cx="260.6" cy="718.4" r="4.4"/><circle cx="264.6" cy="706.4" r="4.4"/><circle cx="269" cy="707.4" r="4.4"/><circle cx="272.8" cy="692.2" r="4.4"/><circle cx="278.6" cy="706" r="4.4"/><circle cx="284.4" cy="698.4" r="4.4"/><circle cx="290.4" cy="691" r="4.4"/><circle cx="296.6" cy="695.2" r="4.4"/><circle cx="302.4" cy="706.8" r="4.4"/><circle cx="307.8" cy="713.6" r="4.4"/><circle cx="313.2" cy="699.6" r="4.4"/><circle cx="318" cy="678" r="4.4"/><circle cx="323" cy="676.8" r="4.4"/><circle cx="329" cy="686" r="4.4"/><circle cx="333.6" cy="664.4" r="4.4"/><circle cx="339.4" cy="669" r="4.4"/><circle cx="345" cy="687" r="4.4"/><circle cx="350" cy="671.4" r="4.4"/><circle cx="355.6" cy="676.6" r="4.4"/><circle cx="361" cy="692" r="4.4"/><circle cx="366.4" cy="684.4" r="4.4"/><circle cx="372" cy="679.4" r="4.4"/><circle cx="378" cy="677" r="4.4"/><circle cx="383" cy="663.4" r="4.4"/><circle cx="389" cy="671" r="4.4"/><circle cx="394.6" cy="685.4" r="4.4"/><circle cx="400.6" cy="699.6" r="4.4"/><circle cx="406.4" cy="675.4" r="4.4"/><circle cx="412" cy="654.4" r="4.4"/><circle cx="418" cy="637" r="4.4"/><circle cx="424.4" cy="693.6" r="4.4"/><circle cx="430.4" cy="670" r="4.4"/><circle cx="436" cy="660" r="4.4"/><circle cx="442" cy="650.6" r="4.4"/><circle cx="447.4" cy="659.5" r="4.4"/><circle cx="452.5" cy="625.2" r="4.4"/><circle cx="458" cy="642" r="4.4"/><circle cx="463.6" cy="635.6" r="4.4"/><circle cx="468.6" cy="661.4" r="4.4"/>
</g>
<g fill="#ea6d44" fill-opacity="0.55" stroke="#cc4a20" stroke-opacity="0.8" stroke-width="2">
<circle cx="119" cy="646" r="4.4"/><circle cx="123.4" cy="555.6" r="4.4"/><circle cx="129" cy="556" r="4.4"/><circle cx="134.4" cy="509" r="4.4"/><circle cx="141" cy="530" r="4.4"/><circle cx="148.4" cy="530" r="4.4"/><circle cx="155" cy="514" r="4.4"/><circle cx="162" cy="535.4" r="4.4"/><circle cx="168.4" cy="527.6" r="4.4"/><circle cx="174.4" cy="499" r="4.4"/><circle cx="180.4" cy="539.6" r="4.4"/><circle cx="187" cy="539.6" r="4.4"/><circle cx="193.4" cy="524.4" r="4.4"/><circle cx="199.4" cy="556.4" r="4.4"/><circle cx="205" cy="556.8" r="4.4"/><circle cx="210.4" cy="553.2" r="4.4"/><circle cx="216" cy="558" r="4.4"/><circle cx="221.6" cy="557.6" r="4.4"/><circle cx="227.4" cy="564.4" r="4.4"/><circle cx="233" cy="570.6" r="4.4"/><circle cx="238.4" cy="539.4" r="4.4"/><circle cx="243.8" cy="590.4" r="4.4"/><circle cx="249.6" cy="558.2" r="4.4"/><circle cx="254.8" cy="588.4" r="4.4"/><circle cx="262.6" cy="599.6" r="4.4"/><circle cx="271" cy="595.2" r="4.4"/><circle cx="279.3" cy="616.4" r="4.4"/><circle cx="286.5" cy="608" r="4.4"/><circle cx="295.4" cy="607" r="4.4"/><circle cx="301.4" cy="622" r="4.4"/><circle cx="308.4" cy="621" r="4.4"/><circle cx="315" cy="629" r="4.4"/><circle cx="328" cy="629.6" r="4.4"/><circle cx="332.6" cy="648" r="4.4"/><circle cx="343" cy="653" r="4.4"/><circle cx="338" cy="661.4" r="4.4"/><circle cx="321.4" cy="663.4" r="4.4"/><circle cx="348" cy="625.6" r="4.4"/><circle cx="352.6" cy="633.6" r="4.4"/><circle cx="358" cy="625" r="4.4"/><circle cx="363" cy="630.4" r="4.4"/><circle cx="368" cy="617.6" r="4.4"/><circle cx="378" cy="610" r="4.4"/><circle cx="373" cy="653.4" r="4.4"/><circle cx="384" cy="633.4" r="4.4"/><circle cx="389.6" cy="645" r="4.4"/><circle cx="395.4" cy="608" r="4.4"/><circle cx="401" cy="629" r="4.4"/><circle cx="406.4" cy="650" r="4.4"/><circle cx="412.4" cy="643.4" r="4.4"/><circle cx="418" cy="637" r="4.4"/><circle cx="423.6" cy="665.6" r="4.4"/><circle cx="429" cy="636.6" r="4.4"/><circle cx="434.6" cy="615.4" r="4.4"/><circle cx="439.4" cy="638" r="4.4"/><circle cx="444.4" cy="629.2" r="4.4"/><circle cx="449.2" cy="611.2" r="4.4"/><circle cx="455" cy="604" r="4.4"/><circle cx="460" cy="599.4" r="4.4"/><circle cx="465" cy="585" r="4.4"/><circle cx="470.4" cy="568" r="4.4"/><circle cx="475.6" cy="577" r="4.4"/><circle cx="480.4" cy="586.6" r="4.4"/><circle cx="486.4" cy="586" r="4.4"/><circle cx="493.6" cy="621.6" r="4.4"/><circle cx="501" cy="625.4" r="4.4"/><circle cx="508.8" cy="593.4" r="4.4"/><circle cx="518.5" cy="612.3" r="4.4"/><circle cx="528.8" cy="610.6" r="4.4"/><circle cx="538.7" cy="621.2" r="4.4"/><circle cx="549" cy="593" r="4.4"/><circle cx="554.2" cy="633.4" r="4.4"/>
</g>
<g fill="#a5c4af" fill-opacity="0.55" stroke="#83a78f" stroke-opacity="0.8" stroke-width="2">
<circle cx="535.6" cy="659.6" r="4.4"/><circle cx="530.4" cy="673.4" r="4.4"/><circle cx="541" cy="637.5" r="4.4"/><circle cx="575" cy="618" r="4.4"/><circle cx="591.25" cy="605" r="4.4"/><circle cx="598.75" cy="608.75" r="4.4"/><circle cx="596.9" cy="621.25" r="4.4"/><circle cx="618.5" cy="563.9" r="4.4"/><circle cx="636.25" cy="516.25" r="4.4"/><circle cx="705.6" cy="515.6" r="4.4"/><circle cx="656.9" cy="546.25" r="4.4"/><circle cx="735" cy="428.1" r="4.4"/><circle cx="603.75" cy="597.5" r="4.4"/>
</g>
<g fill="#a6c07c" fill-opacity="0.55" stroke="#86a45c" stroke-opacity="0.8" stroke-width="2">
<circle cx="563" cy="547.5" r="4.4"/><circle cx="519.75" cy="577.75" r="4.4"/><circle cx="527.5" cy="583.1" r="4.4"/><circle cx="535.6" cy="587.1" r="4.4"/><circle cx="545" cy="582.9" r="4.4"/><circle cx="572.75" cy="571" r="4.4"/><circle cx="553" cy="620.6" r="4.4"/><circle cx="590.6" cy="646.9" r="4.4"/><circle cx="605.9" cy="638.75" r="4.4"/><circle cx="663.1" cy="580" r="4.4"/><circle cx="633.3" cy="600.8" r="4.4"/><circle cx="624.1" cy="611" r="4.4"/><circle cx="643.1" cy="613.75" r="4.4"/><circle cx="653.4" cy="609.4" r="4.4"/><circle cx="627.5" cy="549.7" r="4.4"/><circle cx="719.75" cy="491.25" r="4.4"/><circle cx="709.75" cy="516.25" r="4.4"/><circle cx="682.4" cy="525.5" r="4.4"/><circle cx="663.9" cy="532.5" r="4.4"/><circle cx="693.75" cy="543.1" r="4.4"/><circle cx="591.25" cy="650" r="4.4"/><circle cx="553.75" cy="643.75" r="4.4"/><circle cx="555.5" cy="648" r="4.4"/><circle cx="551" cy="641" r="4.4"/>
</g>
<g fill="#d3ec90" fill-opacity="0.55" stroke="#b3d566" stroke-opacity="0.8" stroke-width="2">
<circle cx="526.9" cy="654.6" r="4.4"/><circle cx="566.25" cy="676" r="4.4"/><circle cx="519.75" cy="680.6" r="4.4"/><circle cx="560" cy="652.2" r="4.4"/><circle cx="548.4" cy="601.6" r="4.4"/><circle cx="541.25" cy="630.6" r="4.4"/><circle cx="534" cy="643.1" r="4.4"/><circle cx="572.5" cy="643.1" r="4.4"/><circle cx="577.5" cy="635.6" r="4.4"/><circle cx="587.5" cy="625" r="4.4"/><circle cx="595" cy="640" r="4.4"/><circle cx="621.9" cy="650.6" r="4.4"/><circle cx="603.75" cy="631.25" r="4.4"/><circle cx="683.1" cy="507.1" r="4.4"/><circle cx="666.25" cy="545" r="4.4"/><circle cx="672.75" cy="545.8" r="4.4"/><circle cx="736.5" cy="364" r="4.4"/><circle cx="705" cy="384.6" r="4.4"/><circle cx="637" cy="690" r="4.4"/><circle cx="553.2" cy="644.7" r="4.4"/><circle cx="560" cy="651.6" r="4.4"/><circle cx="557" cy="640" r="4.4"/>
</g>
<g fill="#7fe6a8" fill-opacity="0.55" stroke="#43cc80" stroke-opacity="0.8" stroke-width="2">
<circle cx="522.9" cy="665.6" r="4.4"/><circle cx="519" cy="673.75" r="4.4"/><circle cx="527.5" cy="683" r="4.4"/><circle cx="546.25" cy="663.75" r="4.4"/><circle cx="566.25" cy="592.5" r="4.4"/><circle cx="632.75" cy="592.25" r="4.4"/><circle cx="703.5" cy="600" r="4.4"/><circle cx="696" cy="603.3" r="4.4"/><circle cx="689.5" cy="613.5" r="4.4"/><circle cx="675.6" cy="624.6" r="4.4"/><circle cx="682.75" cy="631" r="4.4"/><circle cx="665.6" cy="632.1" r="4.4"/><circle cx="655.6" cy="640" r="4.4"/><circle cx="639.6" cy="647.5" r="4.4"/><circle cx="647.5" cy="652.75" r="4.4"/><circle cx="626.25" cy="645.6" r="4.4"/><circle cx="618.75" cy="641.9" r="4.4"/><circle cx="604.4" cy="650.6" r="4.4"/><circle cx="599.4" cy="662" r="4.4"/><circle cx="614.4" cy="622.5" r="4.4"/><circle cx="609.4" cy="600" r="4.4"/><circle cx="730.25" cy="526" r="4.4"/><circle cx="724" cy="530" r="4.4"/><circle cx="709.6" cy="573.1" r="4.4"/><circle cx="716.6" cy="579" r="4.4"/>
</g>
<g fill="#6cbd94" fill-opacity="0.55" stroke="#3f9870" stroke-opacity="0.8" stroke-width="2">
<circle cx="519.75" cy="752.75" r="4.4"/><circle cx="531.5" cy="755.25" r="4.4"/><circle cx="522.75" cy="723.75" r="4.4"/><circle cx="525.6" cy="727.75" r="4.4"/><circle cx="529" cy="728.1" r="4.4"/><circle cx="534.4" cy="710.4" r="4.4"/><circle cx="546.9" cy="656.9" r="4.4"/><circle cx="556.9" cy="663.1" r="4.4"/><circle cx="519" cy="690" r="4.4"/><circle cx="523.75" cy="694.4" r="4.4"/><circle cx="523.5" cy="597.75" r="4.4"/><circle cx="586.9" cy="593.1" r="4.4"/><circle cx="609.4" cy="578" r="4.4"/><circle cx="601.25" cy="617.5" r="4.4"/><circle cx="607.5" cy="598.75" r="4.4"/><circle cx="632.25" cy="582.25" r="4.4"/><circle cx="623.4" cy="600.6" r="4.4"/><circle cx="602.5" cy="616.25" r="4.4"/><circle cx="733.5" cy="458.5" r="4.4"/><circle cx="719" cy="502.75" r="4.4"/><circle cx="691.5" cy="513.5" r="4.4"/><circle cx="706.25" cy="522.5" r="4.4"/><circle cx="657.5" cy="538.1" r="4.4"/><circle cx="698.75" cy="538.1" r="4.4"/><circle cx="596.25" cy="606.25" r="4.4"/><circle cx="575" cy="595" r="4.4"/>
</g>
<g fill="#4cc172" fill-opacity="0.55" stroke="#2a9e52" stroke-opacity="0.8" stroke-width="2">
<circle cx="530.6" cy="701.25" r="4.4"/><circle cx="535.6" cy="703" r="4.4"/><circle cx="538.75" cy="704.6" r="4.4"/><circle cx="533" cy="697.5" r="4.4"/><circle cx="537.25" cy="695.6" r="4.4"/><circle cx="541.25" cy="694.4" r="4.4"/><circle cx="528.75" cy="692.5" r="4.4"/><circle cx="531.9" cy="691.25" r="4.4"/><circle cx="541.9" cy="685.6" r="4.4"/><circle cx="546.9" cy="686.25" r="4.4"/><circle cx="539.4" cy="675.6" r="4.4"/><circle cx="543.75" cy="673.1" r="4.4"/><circle cx="548.1" cy="672.5" r="4.4"/><circle cx="552.5" cy="673.75" r="4.4"/><circle cx="574.6" cy="587.5" r="4.4"/><circle cx="570.6" cy="596.9" r="4.4"/><circle cx="576.9" cy="595" r="4.4"/><circle cx="567.5" cy="606.25" r="4.4"/><circle cx="573.75" cy="605" r="4.4"/><circle cx="581.25" cy="608.75" r="4.4"/><circle cx="595" cy="596.25" r="4.4"/><circle cx="598" cy="588" r="4.4"/><circle cx="603.75" cy="587.5" r="4.4"/><circle cx="562.5" cy="617.5" r="4.4"/><circle cx="558.75" cy="625" r="4.4"/><circle cx="565" cy="635" r="4.4"/><circle cx="585" cy="635" r="4.4"/><circle cx="580" cy="620" r="4.4"/><circle cx="590" cy="613.75" r="4.4"/><circle cx="610" cy="578.5" r="4.4"/><circle cx="620.9" cy="573.5" r="4.4"/><circle cx="626.9" cy="564.4" r="4.4"/><circle cx="630.6" cy="566.9" r="4.4"/><circle cx="636.25" cy="565.6" r="4.4"/><circle cx="641.25" cy="565" r="4.4"/><circle cx="640.6" cy="553.75" r="4.4"/><circle cx="645.6" cy="558.75" r="4.4"/><circle cx="651.25" cy="552.75" r="4.4"/><circle cx="650" cy="560.6" r="4.4"/><circle cx="656.25" cy="562.5" r="4.4"/><circle cx="661.9" cy="563.1" r="4.4"/><circle cx="668.1" cy="557.75" r="4.4"/><circle cx="681.5" cy="555.25" r="4.4"/><circle cx="690" cy="561.9" r="4.4"/><circle cx="694.4" cy="563.75" r="4.4"/><circle cx="685.6" cy="573.5" r="4.4"/><circle cx="615" cy="593.4" r="4.4"/><circle cx="604.4" cy="587.5" r="4.4"/><circle cx="605.6" cy="597.5" r="4.4"/><circle cx="616.25" cy="627.5" r="4.4"/><circle cx="619.4" cy="636.25" r="4.4"/><circle cx="726.9" cy="504.1" r="4.4"/><circle cx="718.5" cy="534.4" r="4.4"/><circle cx="672.5" cy="535" r="4.4"/><circle cx="676.25" cy="536.9" r="4.4"/><circle cx="680" cy="535.6" r="4.4"/><circle cx="702.1" cy="545.6" r="4.4"/><circle cx="710.9" cy="544.4" r="4.4"/><circle cx="650.6" cy="551.9" r="4.4"/><circle cx="642.5" cy="552.5" r="4.4"/><circle cx="647.5" cy="560" r="4.4"/><circle cx="641.9" cy="563.75" r="4.4"/><circle cx="586.9" cy="593.75" r="4.4"/><circle cx="594.4" cy="596.25" r="4.4"/><circle cx="575" cy="587.5" r="4.4"/><circle cx="551" cy="657" r="4.4"/><circle cx="550.6" cy="672.8" r="4.4"/><circle cx="544.1" cy="685.3" r="4.4"/><circle cx="536.8" cy="694" r="4.4"/><circle cx="535.9" cy="699.1" r="4.4"/><circle cx="531.6" cy="700.9" r="4.4"/><circle cx="534.2" cy="705.2" r="4.4"/><circle cx="529.9" cy="692.2" r="4.4"/><circle cx="572.5" cy="591.25" r="4.4"/><circle cx="578.75" cy="600" r="4.4"/><circle cx="570" cy="602.5" r="4.4"/><circle cx="582.5" cy="605" r="4.4"/><circle cx="587.5" cy="610" r="4.4"/><circle cx="585" cy="615" r="4.4"/><circle cx="560" cy="621.25" r="4.4"/><circle cx="563.75" cy="625" r="4.4"/><circle cx="567.5" cy="630" r="4.4"/><circle cx="560" cy="630" r="4.4"/><circle cx="592.5" cy="593.75" r="4.4"/><circle cx="600" cy="591.25" r="4.4"/><circle cx="603.75" cy="596.25" r="4.4"/>
</g>
</svg>
</body></html>
